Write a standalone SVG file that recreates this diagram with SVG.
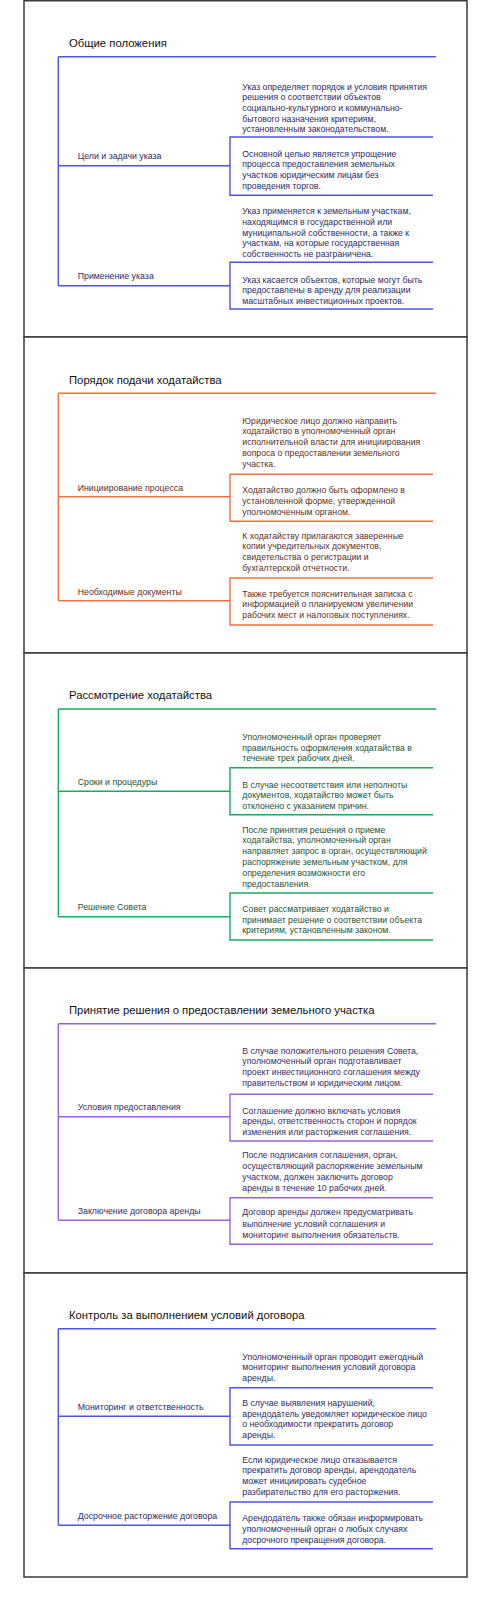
<svg xmlns="http://www.w3.org/2000/svg" width="480" height="1600" viewBox="0 0 480 1600">
<style>
.frame{fill:#fff;stroke:#3a3a3a;stroke-width:1.5}
.ln{fill:none;stroke-width:1.4}
.blue{stroke:#4f52e3}.orange{stroke:#f0723f}.green{stroke:#1fa860}.purple{stroke:#9a60e0}
text{font-family:"Liberation Sans",Arial,sans-serif}
.title{font-size:11.3px;fill:#111}
.cat{font-size:8.8px}
.it{font-size:8.7px}
.tb{fill:#2b2b66}.to{fill:#5e2f1c}.tg{fill:#1c5434}.tp{fill:#3a2b5c}
</style>
<rect x="0" y="0" width="480" height="1600" fill="#fff"/>
<g id="frames">
<rect class="frame" x="24" y="0.75" width="443" height="336.25"/>
<rect class="frame" x="24" y="337" width="443" height="316"/>
<rect class="frame" x="24" y="653" width="443" height="315"/>
<rect class="frame" x="24" y="968" width="443" height="305"/>
<rect class="frame" x="24" y="1273" width="443" height="304"/>
</g>

<!-- Panel 1 -->
<g id="connectors-1" class="ln blue">
<path d="M58.3 56.7H436M58.3 56.7V285.7M58.3 165.7H230M58.3 285.7H230"/>
</g>
<g id="p1-title"><text class="title" x="69" y="46.8">Общие положения</text></g>
<g id="p1-cat1"><text class="cat tb" x="77.7" y="159.2">Цели и задачи указа</text></g>
<g id="p1-cat2"><text class="cat tb" x="77.7" y="279.2">Применение указа</text></g>
<g id="p1-a1"><text class="it tb" x="242.3" y="89.8"><tspan x="242.3">Указ определяет порядок и условия принятия</tspan><tspan x="242.3" dy="10.67">решения о соответствии объектов</tspan><tspan x="242.3" dy="10.67">социально-культурного и коммунально-</tspan><tspan x="242.3" dy="10.67">бытового назначения критериям,</tspan><tspan x="242.3" dy="10.67">установленным законодательством.</tspan></text></g>
<g id="p1-b1"><path class="ln blue" d="M433 137H230V195.3H433"/><text class="it tb" x="242.3" y="156.8"><tspan x="242.3">Основной целью является упрощение</tspan><tspan x="242.3" dy="10.67">процесса предоставления земельных</tspan><tspan x="242.3" dy="10.67">участков юридическим лицам без</tspan><tspan x="242.3" dy="10.67">проведения торгов.</tspan></text></g>
<g id="p1-a2"><text class="it tb" x="242.3" y="214.2"><tspan x="242.3">Указ применяется к земельным участкам,</tspan><tspan x="242.3" dy="10.67">находящимся в государственной или</tspan><tspan x="242.3" dy="10.67">муниципальной собственности, а также к</tspan><tspan x="242.3" dy="10.67">участкам, на которые государственная</tspan><tspan x="242.3" dy="10.67">собственность не разграничена.</tspan></text></g>
<g id="p1-b2"><path class="ln blue" d="M433 262.3H230V309H433"/><text class="it tb" x="242.3" y="282.5"><tspan x="242.3">Указ касается объектов, которые могут быть</tspan><tspan x="242.3" dy="10.67">предоставлены в аренду для реализации</tspan><tspan x="242.3" dy="10.67">масштабных инвестиционных проектов.</tspan></text></g>

<!-- Panel 2 -->
<g id="connectors-2" class="ln orange">
<path d="M58.3 393.3H436M58.3 393.3V600.7M58.3 496.7H230M58.3 600.7H230"/>
</g>
<g id="p2-title"><text class="title" x="69" y="383.5">Порядок подачи ходатайства</text></g>
<g id="p2-cat1"><text class="cat to" x="77.7" y="490.5">Инициирование процесса</text></g>
<g id="p2-cat2"><text class="cat to" x="77.7" y="594.8">Необходимые документы</text></g>
<g id="p2-a1"><text class="it to" x="242.3" y="423.5"><tspan x="242.3">Юридическое лицо должно направить</tspan><tspan x="242.3" dy="10.8">ходатайство в уполномоченный орган</tspan><tspan x="242.3" dy="10.8">исполнительной власти для инициирования</tspan><tspan x="242.3" dy="10.8">вопроса о предоставлении земельного</tspan><tspan x="242.3" dy="10.8">участка.</tspan></text></g>
<g id="p2-b1"><path class="ln orange" d="M433 474.3H230V521.3H433"/><text class="it to" x="242.3" y="493.2"><tspan x="242.3">Ходатайство должно быть оформлено в</tspan><tspan x="242.3" dy="10.67">установленной форме, утвержденной</tspan><tspan x="242.3" dy="10.67">уполномоченным органом.</tspan></text></g>
<g id="p2-a2"><text class="it to" x="242.3" y="538.5"><tspan x="242.3">К ходатайству прилагаются заверенные</tspan><tspan x="242.3" dy="10.8">копии учредительных документов,</tspan><tspan x="242.3" dy="10.8">свидетельства о регистрации и</tspan><tspan x="242.3" dy="10.8">бухгалтерской отчетности.</tspan></text></g>
<g id="p2-b2"><path class="ln orange" d="M433 578H230V625H433"/><text class="it to" x="242.3" y="596.5"><tspan x="242.3">Также требуется пояснительная записка с</tspan><tspan x="242.3" dy="10.8">информацией о планируемом увеличении</tspan><tspan x="242.3" dy="10.8">рабочих мест и налоговых поступлениях.</tspan></text></g>

<!-- Panel 3 -->
<g id="connectors-3" class="ln green">
<path d="M58.3 709H436M58.3 709V916.7M58.3 791.3H230M58.3 916.7H230"/>
</g>
<g id="p3-title"><text class="title" x="69" y="699.2">Рассмотрение ходатайства</text></g>
<g id="p3-cat1"><text class="cat tg" x="77.7" y="784.8">Сроки и процедуры</text></g>
<g id="p3-cat2"><text class="cat tg" x="77.7" y="909.5">Решение Совета</text></g>
<g id="p3-a1"><text class="it tg" x="242.3" y="739.8"><tspan x="242.3">Уполномоченный орган проверяет</tspan><tspan x="242.3" dy="10.8">правильность оформления ходатайства в</tspan><tspan x="242.3" dy="10.8">течение трех рабочих дней.</tspan></text></g>
<g id="p3-b1"><path class="ln green" d="M433 767.7H230V814.7H433"/><text class="it tg" x="242.3" y="787.5"><tspan x="242.3">В случае несоответствия или неполноты</tspan><tspan x="242.3" dy="10.6">документов, ходатайство может быть</tspan><tspan x="242.3" dy="10.6">отклонено с указанием причин.</tspan></text></g>
<g id="p3-a2"><text class="it tg" x="242.3" y="832.5"><tspan x="242.3">После принятия решения о приеме</tspan><tspan x="242.3" dy="10.8">ходатайства, уполномоченный орган</tspan><tspan x="242.3" dy="10.8">направляет запрос в орган, осуществляющий</tspan><tspan x="242.3" dy="10.8">распоряжение земельным участком, для</tspan><tspan x="242.3" dy="10.8">определения возможности его</tspan><tspan x="242.3" dy="10.8">предоставления.</tspan></text></g>
<g id="p3-b2"><path class="ln green" d="M433 893H230V940H433"/><text class="it tg" x="242.3" y="911.8"><tspan x="242.3">Совет рассматривает ходатайство и</tspan><tspan x="242.3" dy="10.7">принимает решение о соответствии объекта</tspan><tspan x="242.3" dy="10.7">критериям, установленным законом.</tspan></text></g>

<!-- Panel 4 -->
<g id="connectors-4" class="ln purple">
<path d="M58.3 1023.7H436M58.3 1023.7V1220.3M58.3 1116.7H230M58.3 1220.3H230"/>
</g>
<g id="p4-title"><text class="title" x="69" y="1014.2">Принятие решения о предоставлении земельного участка</text></g>
<g id="p4-cat1"><text class="cat tp" x="77.7" y="1110.2">Условия предоставления</text></g>
<g id="p4-cat2"><text class="cat tp" x="77.7" y="1213.8">Заключение договора аренды</text></g>
<g id="p4-a1"><text class="it tp" x="242.3" y="1053.5"><tspan x="242.3">В случае положительного решения Совета,</tspan><tspan x="242.3" dy="10.8">уполномоченный орган подготавливает</tspan><tspan x="242.3" dy="10.8">проект инвестиционного соглашения между</tspan><tspan x="242.3" dy="10.8">правительством и юридическим лицом.</tspan></text></g>
<g id="p4-b1"><path class="ln purple" d="M433 1094.3H230V1141H433"/><text class="it tp" x="242.3" y="1113.5"><tspan x="242.3">Соглашение должно включать условия</tspan><tspan x="242.3" dy="10.67">аренды, ответственность сторон и порядок</tspan><tspan x="242.3" dy="10.67">изменения или расторжения соглашения.</tspan></text></g>
<g id="p4-a2"><text class="it tp" x="242.3" y="1157.8"><tspan x="242.3">После подписания соглашения, орган,</tspan><tspan x="242.3" dy="10.9">осуществляющий распоряжение земельным</tspan><tspan x="242.3" dy="10.9">участком, должен заключить договор</tspan><tspan x="242.3" dy="10.9">аренды в течение 10 рабочих дней.</tspan></text></g>
<g id="p4-b2"><path class="ln purple" d="M433 1197.7H230V1244.3H433"/><text class="it tp" x="242.3" y="1215.2"><tspan x="242.3">Договор аренды должен предусматривать</tspan><tspan x="242.3" dy="11.3">выполнение условий соглашения и</tspan><tspan x="242.3" dy="11.3">мониторинг выполнения обязательств.</tspan></text></g>

<!-- Panel 5 -->
<g id="connectors-5" class="ln blue">
<path d="M58.3 1328.7H436M58.3 1328.7V1525.3M58.3 1416.3H230M58.3 1525.3H230"/>
</g>
<g id="p5-title"><text class="title" x="69" y="1318.5">Контроль за выполнением условий договора</text></g>
<g id="p5-cat1"><text class="cat tb" x="77.7" y="1409.5">Мониторинг и ответственность</text></g>
<g id="p5-cat2"><text class="cat tb" x="77.7" y="1518.5">Досрочное расторжение договора</text></g>
<g id="p5-a1"><text class="it tb" x="242.3" y="1359.5"><tspan x="242.3">Уполномоченный орган проводит ежегодный</tspan><tspan x="242.3" dy="10.67">мониторинг выполнения условий договора</tspan><tspan x="242.3" dy="10.67">аренды.</tspan></text></g>
<g id="p5-b1"><path class="ln blue" d="M433 1387.7H230V1445H433"/><text class="it tb" x="242.3" y="1406.2"><tspan x="242.3">В случае выявления нарушений,</tspan><tspan x="242.3" dy="10.6">арендодатель уведомляет юридическое лицо</tspan><tspan x="242.3" dy="10.6">о необходимости прекратить договор</tspan><tspan x="242.3" dy="10.6">аренды.</tspan></text></g>
<g id="p5-a2"><text class="it tb" x="242.3" y="1462.5"><tspan x="242.3">Если юридическое лицо отказывается</tspan><tspan x="242.3" dy="10.9">прекратить договор аренды, арендодатель</tspan><tspan x="242.3" dy="10.9">может инициировать судебное</tspan><tspan x="242.3" dy="10.9">разбирательство для его расторжения.</tspan></text></g>
<g id="p5-b2"><path class="ln blue" d="M433 1502H230V1548.7H433"/><text class="it tb" x="242.3" y="1521.2"><tspan x="242.3">Арендодатель также обязан информировать</tspan><tspan x="242.3" dy="11">уполномоченный орган о любых случаях</tspan><tspan x="242.3" dy="11">досрочного прекращения договора.</tspan></text></g>
</svg>
